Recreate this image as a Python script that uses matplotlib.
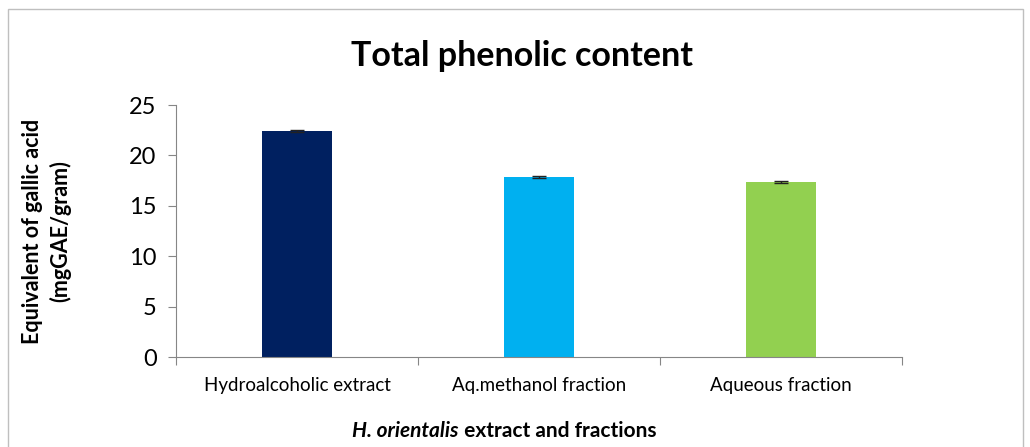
import matplotlib.pyplot as plt
import numpy as np

# data
categories = ["Hydroalcoholic extract", "Aq.methanol fraction", "Aqueous fraction"]
values = [22.45, 17.85, 17.35]
errors = [0.08, 0.1, 0.08]
colors = ["#002060", "#00B0F0", "#92D050"]
yticks = [0, 5, 10, 15, 20, 25]

plt.rcParams['font.family'] = ['Lato', 'DejaVu Sans']

fig = plt.figure(figsize=(10.3, 4.47), dpi=100)
ax = fig.add_axes([0.171, 0.201, 0.705, 0.564])

x = np.arange(len(categories))
ax.bar(x, values, width=0.29, color=colors, zorder=2)
ax.errorbar(x, values, yerr=errors, fmt="none", ecolor="#222222",
            elinewidth=1, capsize=5, capthick=1, zorder=3)

ax.set_xlim(-0.5, len(categories) - 0.5)
ax.set_ylim(0, 25)
ax.set_yticks(yticks)
ax.tick_params(axis="y", labelsize=17, length=6, color="#868686", pad=8)

# categories as minor labels, ticks at category boundaries
ax.set_xticks(np.arange(-0.5, len(categories)), labels=[""] * (len(categories) + 1))
ax.set_xticks(x, labels=categories, minor=True)
ax.tick_params(axis="x", which="major", length=6, color="#868686")
ax.tick_params(axis="x", which="minor", length=0, labelsize=13.5, pad=14)

for s in ["top", "right"]:
    ax.spines[s].set_visible(False)
for s in ["left", "bottom"]:
    ax.spines[s].set_color("#868686")

ax.set_ylabel("Equivalent of gallic acid\n(mgGAE/gram)", fontsize=15.5,
              fontweight="bold", labelpad=42, linespacing=1.3)

fig.text(0.507, 0.875, "Total phenolic content", ha="center", va="center",
         fontsize=24.5, fontweight="bold")

# x label with italic species name
t1 = fig.text(0.342, 0.022, "H. orientalis", fontsize=15, fontweight="bold",
              fontstyle="italic", ha="left", va="baseline")
ax.annotate(" extract and fractions", xy=(1, 0), xycoords=t1,
            fontsize=15, fontweight="bold", ha="left", va="bottom")

# outer chart border
fig.patches.append(plt.Rectangle((0.008, -0.01), 0.985, 0.99, transform=fig.transFigure,
                                 fill=False, edgecolor="#BFBFBF", linewidth=1))

fig.savefig("out.png", dpi=100)
